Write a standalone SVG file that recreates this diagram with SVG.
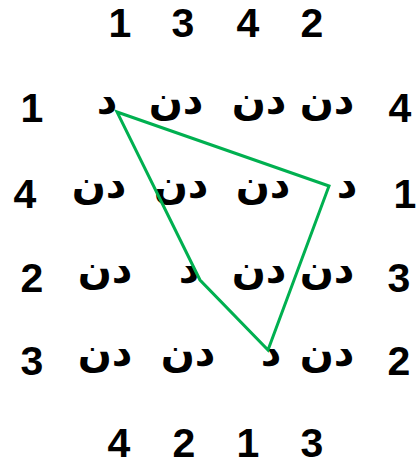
<svg xmlns="http://www.w3.org/2000/svg" width="416" height="468" viewBox="0 0 416 468">
<style>
.n{font-family:"Liberation Sans",Arial,sans-serif;font-weight:bold;font-size:41px;fill:#000;text-anchor:middle}
.a{font-family:"DejaVu Sans",sans-serif;font-weight:bold;font-size:40px;fill:#000;text-anchor:middle}
.c{fill:none;stroke:#00B050;stroke-width:3;stroke-linejoin:miter}
</style>
<rect width="416" height="468" fill="#fff"/>
<g id="top">
<text class="n" x="120" y="37">1</text>
<text class="n" x="183" y="37">3</text>
<text class="n" x="248" y="37">4</text>
<text class="n" x="312" y="37">2</text>
</g>
<g id="row1">
<text class="n" x="32" y="122">1</text>
<text class="a" x="107" y="114" direction="rtl">د</text>
<text class="a" x="176" y="114" direction="rtl">دن</text>
<text class="a" x="259" y="114" direction="rtl">دن</text>
<text class="a" x="327" y="114" direction="rtl">دن</text>
<text class="n" x="400" y="122">4</text>
</g>
<g id="row2">
<text class="n" x="25" y="208">4</text>
<text class="a" x="99" y="198" direction="rtl">دن</text>
<text class="a" x="181" y="198" direction="rtl">دن</text>
<text class="a" x="263" y="198" direction="rtl">دن</text>
<text class="a" x="347" y="198" direction="rtl">د</text>
<text class="n" x="405" y="208">1</text>
</g>
<g id="row3">
<text class="n" x="32" y="292">2</text>
<text class="a" x="105" y="283" direction="rtl">دن</text>
<text class="a" x="189" y="283" direction="rtl">د</text>
<text class="a" x="259" y="283" direction="rtl">دن</text>
<text class="a" x="327" y="283" direction="rtl">دن</text>
<text class="n" x="399" y="292">3</text>
</g>
<g id="row4">
<text class="n" x="32" y="375">3</text>
<text class="a" x="105" y="366" direction="rtl">دن</text>
<text class="a" x="188" y="366" direction="rtl">دن</text>
<text class="a" x="271" y="366" direction="rtl">د</text>
<text class="a" x="327" y="366" direction="rtl">دن</text>
<text class="n" x="399" y="375">2</text>
</g>
<g id="bottom">
<text class="n" x="119" y="457">4</text>
<text class="n" x="184" y="457">2</text>
<text class="n" x="248" y="457">1</text>
<text class="n" x="312" y="457">3</text>
</g>
<g id="connectors">
<polygon class="c" points="117,112 329,186 268,350 200,280"/>
</g>
</svg>
